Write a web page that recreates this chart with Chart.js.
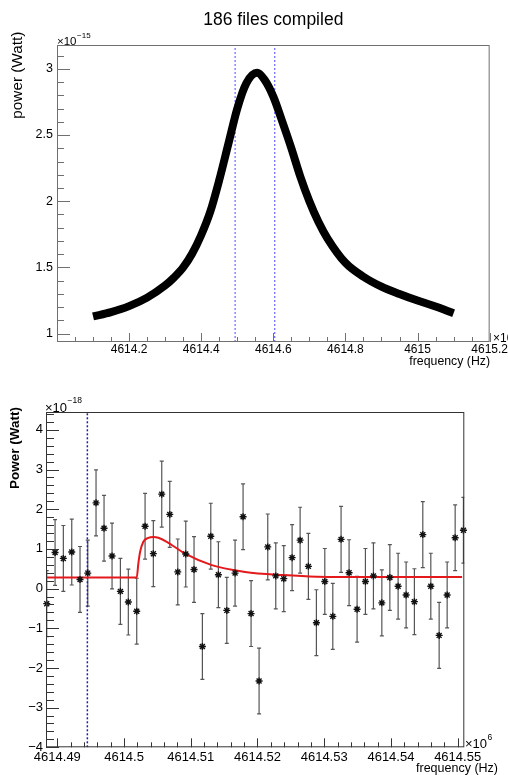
<!DOCTYPE html>
<html>
<head>
<meta charset="utf-8">
<script src="https://cdn.jsdelivr.net/npm/chart.js@4.4.1/dist/chart.umd.min.js"></script>
<style>
  html, body { margin: 0; padding: 0; background: #fff; }
  body { width: 508px; height: 775px; position: relative; overflow: hidden; }
  canvas { position: absolute; left: 0; }
  #top { top: 0; }
  #bottom { top: 372px; }
</style>
</head>
<body>
<canvas id="top" width="508" height="372"></canvas>
<canvas id="bottom" width="508" height="403"></canvas>
<script>
const FONT = '"Liberation Sans", Arial, Helvetica, sans-serif';

// top panel: compiled spectrum, power in units of 1e-15 W
const curveFreq = [4614.10, 4614.15, 4614.20, 4614.25, 4614.30, 4614.325, 4614.35, 4614.375,
  4614.40, 4614.425, 4614.45, 4614.475, 4614.50, 4614.525, 4614.555, 4614.575, 4614.60,
  4614.625, 4614.65, 4614.675, 4614.70, 4614.725, 4614.75, 4614.80, 4614.85, 4614.90,
  4614.95, 4615.00, 4615.05, 4615.10];
const curvePower = [1.13, 1.163, 1.208, 1.272, 1.364, 1.425, 1.50, 1.605,
  1.745, 1.92, 2.16, 2.43, 2.70, 2.89, 2.97, 2.92, 2.79,
  2.60, 2.40, 2.185, 2.00, 1.845, 1.72, 1.535, 1.43, 1.355,
  1.30, 1.25, 1.205, 1.155];
const windowFreq = [4614.494, 4614.604];
const topXTicks = [4614.2, 4614.4, 4614.6, 4614.8, 4615, 4615.2];
const topYTicks = [1, 1.5, 2, 2.5, 3];

// bottom panel: single bins, power in units of 1e-18 W, frequency axis x1e6
const binFreq = [4614.48841, 4614.48966, 4614.49090, 4614.49216, 4614.49340, 4614.49456,
  4614.49580, 4614.49700, 4614.49820, 4614.49945, 4614.50064, 4614.50190, 4614.50315,
  4614.50439, 4614.50565, 4614.50685, 4614.50805, 4614.50925, 4614.51049, 4614.51174,
  4614.51300, 4614.51414, 4614.51540, 4614.51664, 4614.51784, 4614.51904, 4614.52024,
  4614.52154, 4614.52274, 4614.52394, 4614.52519, 4614.52639, 4614.52763, 4614.52883,
  4614.53009, 4614.53129, 4614.53253, 4614.53373, 4614.53493, 4614.53618, 4614.53738,
  4614.53864, 4614.53984, 4614.54108, 4614.54228, 4614.54352, 4614.54478, 4614.54598,
  4614.54723, 4614.54843, 4614.54963, 4614.55087];
const binPower = [-0.38, 0.91, 0.76, 0.92, 0.23, 0.39, 2.16, 1.52, 0.82, -0.07, -0.34, -0.57,
  1.57, 0.88, 2.38, 1.87, 0.42, 0.87, 0.48, -1.46, 1.32, 0.35, -0.55, 0.39, 1.81, -0.63,
  -2.33, 1.05, 0.32, 0.25, 0.78, 1.22, 0.56, -0.86, 0.18, -0.70, 1.24, 0.40, -0.52, 0.18,
  0.32, -0.36, 0.28, 0.06, -0.16, -0.33, 1.36, 0.06, -1.18, -0.16, 1.28, 1.47];
const binError = 0.83;
const fitFreq = [4614.48841, 4614.50190, 4614.50214, 4614.50240, 4614.50289, 4614.50364,
  4614.50439, 4614.50514, 4614.50640, 4614.50915, 4614.51315, 4614.51814, 4614.52384,
  4614.52889, 4614.53838, 4614.55067];
const fitPower = [0.28, 0.28, 0.63, 0.92, 1.18, 1.28, 1.30, 1.28, 1.18, 0.88, 0.59, 0.42,
  0.34, 0.30, 0.29, 0.29];
const markerFreq = 4614.4945;
const botXTicks = [4614.49, 4614.5, 4614.51, 4614.52, 4614.53, 4614.54, 4614.55];
const botYTicks = [-4, -3, -2, -1, 0, 1, 2, 3, 4];

const pts = (xs, ys) => xs.map((x, i) => ({ x, y: ys[i] }));
const fmt = v => String(+(+v).toFixed(4)).replace('-', '\u2212');
const useTicks = list => s => { s.ticks = list.map(v => ({ value: v })); };

// ROOT-like frame: box, inward ticks, exponent labels and axis titles
const rootFrame = {
  id: 'rootFrame',
  afterDatasetsDraw(chart, args, o) {
    const { ctx, chartArea: a, scales: { x, y } } = chart;
    ctx.save();
    ctx.strokeStyle = o.color;
    ctx.lineWidth = 1;
    ctx.strokeRect(a.left + 0.5, a.top + 0.5, a.width - 1, a.height - 1);
    ctx.beginPath();
    const isMajor = (v, step) => Math.abs(v / step - Math.round(v / step)) < 1e-4;
    for (let k = Math.ceil(y.min / o.yMinor - 1e-6); k * o.yMinor <= y.max + 1e-9; k++) {
      const v = k * o.yMinor;
      const py = Math.round(y.getPixelForValue(v)) + 0.5;
      ctx.moveTo(a.left, py);
      ctx.lineTo(a.left + (isMajor(v, o.yMajor) ? o.yMajorLen : o.yMinorLen), py);
    }
    for (let k = Math.ceil(x.min / o.xMinor - 1e-6); k * o.xMinor <= x.max + 1e-9; k++) {
      const v = k * o.xMinor;
      const px = Math.round(x.getPixelForValue(v)) + 0.5;
      ctx.moveTo(px, a.bottom);
      ctx.lineTo(px, a.bottom - (isMajor(v, o.xMajor) ? o.xMajorLen : o.xMinorLen));
    }
    ctx.stroke();

    ctx.fillStyle = '#000';
    o.texts.forEach(t => {
      ctx.save();
      ctx.translate(t.x, t.y);
      if (t.rotate) ctx.rotate(-Math.PI / 2);
      ctx.font = (t.bold ? 'bold ' : '') + t.size + 'px ' + FONT;
      ctx.textAlign = t.align || 'left';
      ctx.textBaseline = t.baseline || 'alphabetic';
      ctx.fillText(t.text, 0, 0);
      if (t.sup) {
        const w = ctx.measureText(t.text).width;
        ctx.font = t.supSize + 'px ' + FONT;
        ctx.fillText(t.sup, w + 0.5, -t.supRise);
      }
      ctx.restore();
    });
    ctx.restore();
  }
};

const errorBars = {
  id: 'errorBars',
  beforeDatasetsDraw(chart, args, o) {
    if (!o.show) return;
    const { ctx, chartArea: a, scales: { x, y } } = chart;
    ctx.save();
    ctx.beginPath();
    ctx.rect(a.left, a.top, a.width, a.height);
    ctx.clip();
    ctx.strokeStyle = o.color;
    ctx.lineWidth = o.width;
    ctx.beginPath();
    binFreq.forEach((f, i) => {
      const px = x.getPixelForValue(f);
      const y1 = y.getPixelForValue(binPower[i] + binError);
      const y2 = y.getPixelForValue(binPower[i] - binError);
      ctx.moveTo(px, y1); ctx.lineTo(px, y2);
      ctx.moveTo(px - o.cap, y1); ctx.lineTo(px + o.cap, y1);
      ctx.moveTo(px - o.cap, y2); ctx.lineTo(px + o.cap, y2);
    });
    ctx.stroke();
    ctx.restore();
  }
};

const tickFont = size => ({ family: FONT, size: size });
const noGrid = { display: false, drawTicks: false };

// ---------- top chart ----------
const topY = [0.937, 3.18];
new Chart(document.getElementById('top'), {
  type: 'line',
  data: {
    datasets: [
      {
        data: pts(curveFreq, curvePower),
        borderColor: '#000',
        borderWidth: 8,
        pointRadius: 0,
        cubicInterpolationMode: 'monotone',
        fill: false
      },
      ...windowFreq.map(f => ({
        data: [{ x: f, y: topY[0] }, { x: f, y: topY[1] }],
        borderColor: '#4a4aff',
        borderWidth: 1,
        borderDash: [2, 2],
        pointRadius: 0
      }))
    ]
  },
  options: {
    responsive: false,
    animation: false,
    events: [],
    layout: { padding: { left: 0, right: 17.5, top: 0, bottom: 0 } },
    plugins: {
      legend: { display: false },
      tooltip: { enabled: false },
      title: {
        display: true,
        text: '186 files compiled',
        fullSize: false,
        color: '#000',
        font: { family: FONT, size: 17.5, weight: 'normal' },
        padding: { top: 10, bottom: 14 }
      },
      errorBars: { show: false },
      rootFrame: {
        color: '#707070',
        yMajor: 0.5, yMinor: 0.1, yMajorLen: 13, yMinorLen: 7,
        xMajor: 0.2, xMinor: 0.05, xMajorLen: 9, xMinorLen: 5,
        texts: [
          { text: '\u00d710', sup: '\u221215', x: 57, y: 45, size: 11.5, supSize: 8, supRise: 7 },
          { text: '\u00d710', x: 493, y: 342, size: 12 },
          { text: 'frequency (Hz)', x: 490, y: 365, size: 12.3, align: 'right' },
          { text: 'power (Watt)', x: 18, y: 31.7, size: 15.3, align: 'right', baseline: 'middle', rotate: true }
        ]
      }
    },
    scales: {
      x: {
        type: 'linear',
        min: 4614.0,
        max: 4615.2,
        afterBuildTicks: useTicks(topXTicks),
        afterFit: s => { s.height = 30; },
        grid: noGrid,
        border: { display: false },
        ticks: { autoSkip: false, maxRotation: 0, padding: 0, color: '#000', font: tickFont(12), callback: fmt }
      },
      y: {
        type: 'linear',
        min: topY[0],
        max: topY[1],
        afterBuildTicks: useTicks(topYTicks),
        afterFit: s => { s.width = 57; },
        grid: noGrid,
        border: { display: false },
        ticks: { padding: 4, color: '#000', font: tickFont(12.5), callback: fmt }
      }
    }
  },
  plugins: [rootFrame, errorBars]
});

// ---------- bottom chart ----------
const botY = [-4, 4.45];
new Chart(document.getElementById('bottom'), {
  type: 'line',
  data: {
    datasets: [
      {
        data: pts(binFreq, binPower),
        showLine: false,
        pointStyle: 'star',
        pointRadius: 3.5,
        pointBorderColor: '#111',
        pointBackgroundColor: 'rgba(0,0,0,0)',
        pointBorderWidth: 1.4,
        clip: false
      },
      {
        data: pts(fitFreq, fitPower),
        borderColor: '#e3191c',
        borderWidth: 2,
        pointRadius: 0,
        cubicInterpolationMode: 'monotone',
        fill: false
      },
      {
        data: [{ x: markerFreq, y: botY[0] }, { x: markerFreq, y: botY[1] }],
        borderColor: '#1c1ca6',
        borderWidth: 1.5,
        borderDash: [2, 2],
        pointRadius: 0
      }
    ]
  },
  options: {
    responsive: false,
    animation: false,
    events: [],
    layout: { padding: { left: 0, right: 43.7, top: 40, bottom: 0 } },
    plugins: {
      legend: { display: false },
      tooltip: { enabled: false },
      errorBars: { show: true, color: '#555', width: 1.2, cap: 2 },
      rootFrame: {
        color: '#333',
        yMajor: 1, yMinor: 0.2, yMajorLen: 13, yMinorLen: 8,
        xMajor: 0.01, xMinor: 0.002, xMajorLen: 9, xMinorLen: 5,
        texts: [
          { text: '\u00d710', sup: '\u221218', x: 45, y: 39.5, size: 13, supSize: 8.5, supRise: 8.5 },
          { text: '\u00d710', sup: '6', x: 465, y: 376, size: 13, supSize: 8.5, supRise: 8 },
          { text: 'frequency (Hz)', x: 498, y: 400.3, size: 12.5, align: 'right' },
          { text: 'Power (Watt)', x: 15, y: 35, size: 13.5, bold: true, align: 'right', baseline: 'middle', rotate: true }
        ]
      }
    },
    scales: {
      x: {
        type: 'linear',
        min: 4614.4883,
        max: 4614.551,
        afterBuildTicks: useTicks(botXTicks),
        afterFit: s => { s.height = 27.7; },
        grid: noGrid,
        border: { display: false },
        ticks: { autoSkip: false, maxRotation: 0, padding: 2, color: '#000', font: tickFont(13), callback: fmt }
      },
      y: {
        type: 'linear',
        min: botY[0],
        max: botY[1],
        afterBuildTicks: useTicks(botYTicks),
        afterFit: s => { s.width = 46; },
        grid: noGrid,
        border: { display: false },
        ticks: { padding: 3, color: '#000', font: tickFont(13), callback: fmt }
      }
    }
  },
  plugins: [rootFrame, errorBars]
});
</script>
</body>
</html>
